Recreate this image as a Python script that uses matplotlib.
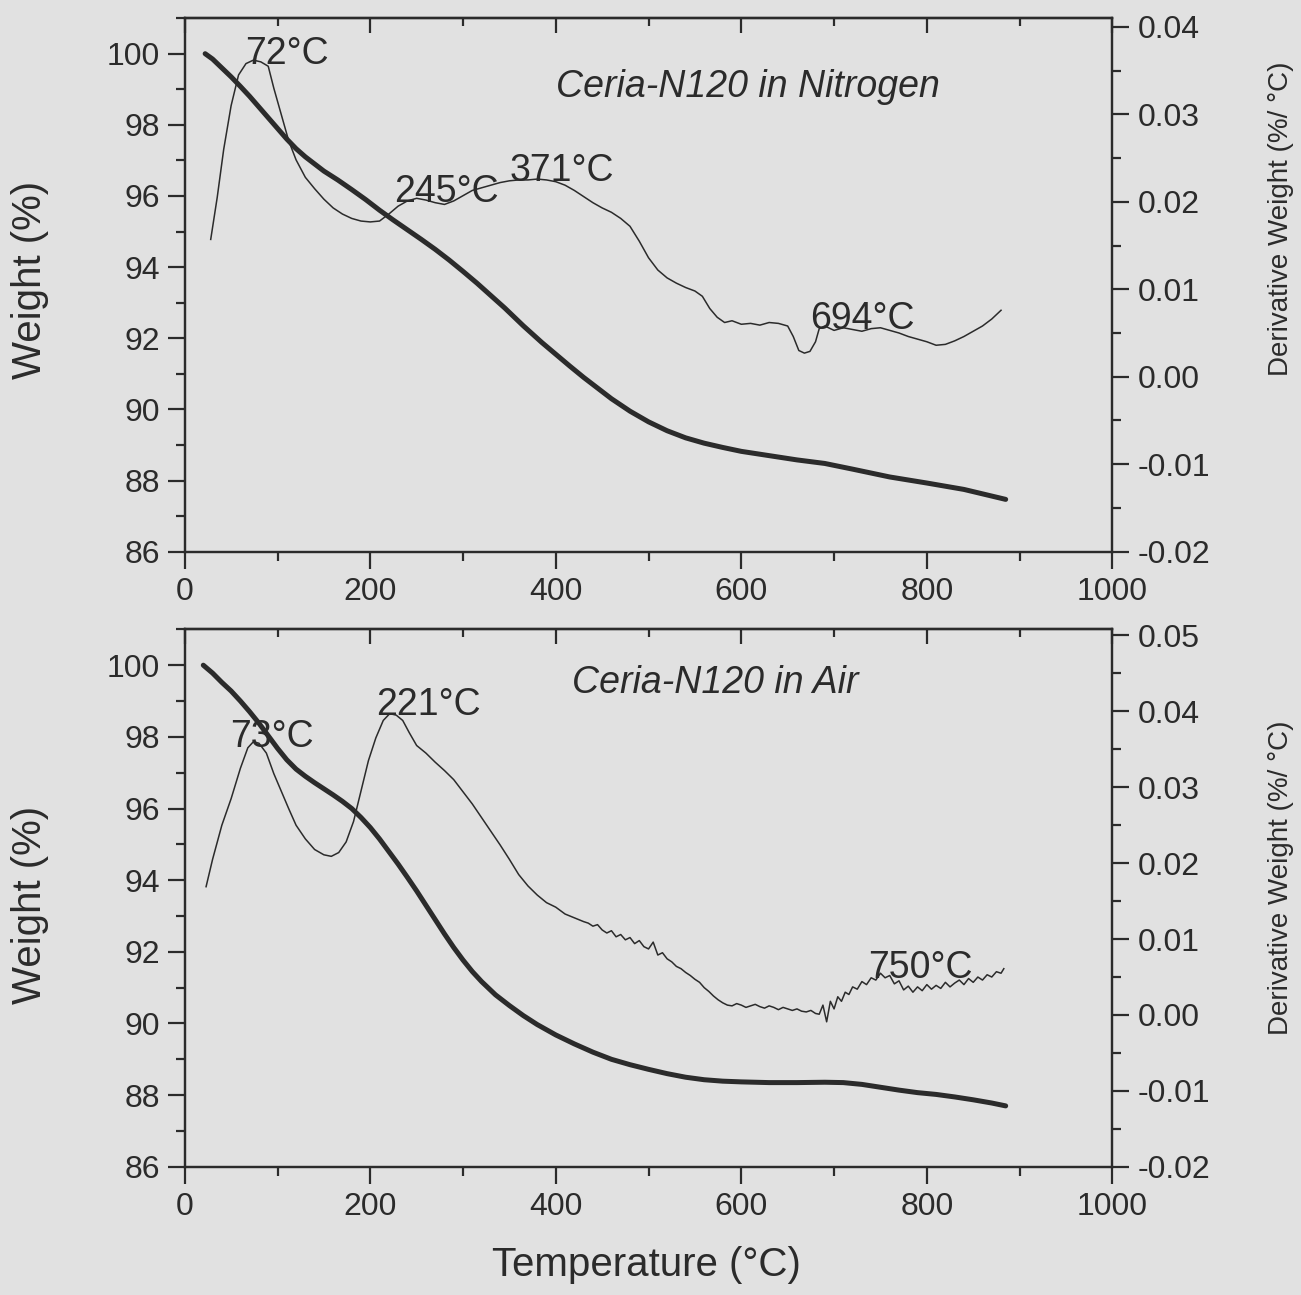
import matplotlib
matplotlib.use("Agg")
import matplotlib.pyplot as plt
from matplotlib.ticker import MultipleLocator

plt.rcParams['font.family'] = ['Liberation Sans', 'DejaVu Sans']

# ---- Ceria-N120 in nitrogen ----
n2_weight_t = [22, 30, 40, 50, 60, 70, 80, 90, 100, 110, 120, 130, 140, 150,
               165, 180, 195, 210, 225, 240, 255, 270, 285, 300, 315, 330, 345,
               365, 385, 400, 415, 430, 445, 460, 480, 500, 520, 540, 560, 580,
               600, 630, 660, 690, 720, 760, 800, 840, 885]
n2_weight = [100, 99.85, 99.6, 99.35, 99.08, 98.8, 98.5, 98.2, 97.9, 97.6,
             97.33, 97.1, 96.9, 96.7, 96.45, 96.18, 95.9, 95.6, 95.32, 95.05,
             94.78, 94.5, 94.2, 93.88, 93.55, 93.2, 92.85, 92.35, 91.88, 91.55,
             91.22, 90.9, 90.6, 90.3, 89.95, 89.65, 89.4, 89.2, 89.05, 88.93,
             88.82, 88.7, 88.58, 88.48, 88.32, 88.1, 87.93, 87.75, 87.47]

n2_deriv_t = [28, 35, 42, 50, 58, 66, 74, 82, 90, 96, 104, 112, 120, 130, 140,
              150, 160, 170, 180, 190, 200, 210, 220, 230, 240, 250, 260, 270,
              280, 290, 300, 310, 320, 330, 340, 350, 360, 370, 380, 390, 400,
              410, 420, 430, 440, 450, 460, 470, 480, 490, 500, 510, 520, 530,
              540, 550, 558, 566, 574, 582, 590, 600, 610, 620, 630, 640, 650,
              656, 662, 668, 674, 680, 684, 690, 700, 710, 720, 730, 740, 750,
              760, 770, 780, 790, 800, 810, 820, 830, 840, 850, 860, 870, 880]
n2_deriv = [0.0157, 0.0205, 0.026, 0.031, 0.0345, 0.0358, 0.0362, 0.036, 0.0355,
            0.033, 0.030, 0.027, 0.0248, 0.0228, 0.0215, 0.0203, 0.0193, 0.0186,
            0.0181, 0.0178, 0.0177, 0.0178, 0.0186, 0.0195, 0.0201, 0.0204,
            0.0202, 0.0199, 0.0197, 0.0201, 0.0207, 0.0213, 0.0216, 0.0219,
            0.0222, 0.0224, 0.0225, 0.0225, 0.0226, 0.0225, 0.0223, 0.0219,
            0.0213, 0.0206, 0.0199, 0.0193, 0.0188, 0.0181, 0.0172, 0.0155,
            0.0136, 0.0122, 0.0113, 0.0107, 0.0102, 0.0098, 0.0092, 0.0078,
            0.0068, 0.0062, 0.0064, 0.0060, 0.0061, 0.0059, 0.0062, 0.0061,
            0.0058, 0.0046, 0.0030, 0.0027, 0.0029, 0.0040, 0.0055, 0.0058,
            0.0053, 0.0056, 0.0054, 0.0052, 0.0055, 0.0056, 0.0053, 0.0050,
            0.0046, 0.0043, 0.0040, 0.0036, 0.0037, 0.0041, 0.0046, 0.0052,
            0.0058, 0.0066, 0.0076]

# ---- Ceria-N120 in air ----
air_weight_t = [20, 30, 40, 50, 60, 70, 80, 90, 100, 110, 120, 130, 140, 150,
                160, 170, 180, 190, 200, 210, 220, 230, 240, 250, 260, 270, 280,
                290, 300, 310, 320, 335, 350, 365, 380, 400, 420, 440, 460, 480,
                500, 520, 540, 560, 580, 600, 630, 660, 690, 710, 730, 750, 770,
                790, 810, 830, 850, 870, 885]
air_weight = [100, 99.78, 99.52, 99.28, 99.0, 98.7, 98.38, 98.03, 97.68, 97.36,
              97.1, 96.9, 96.72, 96.55, 96.38, 96.2, 96.0, 95.75, 95.47, 95.15,
              94.8, 94.45, 94.08, 93.7, 93.3, 92.9, 92.5, 92.12, 91.77, 91.45,
              91.17, 90.8, 90.5, 90.22, 89.97, 89.68, 89.43, 89.2, 89.0, 88.85,
              88.72, 88.6, 88.5, 88.43, 88.39, 88.37, 88.35, 88.35, 88.36, 88.35,
              88.3, 88.22, 88.14, 88.07, 88.02, 87.95, 87.87, 87.78, 87.7]

air_deriv_t = [23, 30, 40, 50, 60, 68, 74, 80, 88, 96, 104, 112, 120, 130, 140,
               150, 158, 166, 174, 182, 190, 198, 206, 214, 221, 228, 235, 242,
               250, 260, 270, 280, 290, 300, 310, 320, 330, 340, 350, 360, 370,
               380, 390, 400, 410, 420, 430, 435, 440, 445, 450, 455, 460, 465,
               470, 475, 480, 485, 490, 495, 500, 505, 510, 515, 520, 525, 530,
               535, 540, 545, 550, 555, 560, 565, 570, 575, 580, 585, 590, 595,
               600, 605, 610, 615, 620, 625, 630, 635, 640, 645, 650, 655, 660,
               665, 670, 675, 680, 684, 688, 692, 696, 700, 704, 708, 712, 716,
               720, 725, 730, 735, 740, 745, 750, 755, 760, 765, 770, 775, 780,
               785, 790, 795, 800, 805, 810, 815, 820, 825, 830, 835, 840, 845,
               850, 855, 860, 865, 870, 875, 880, 883]
air_deriv = [0.0169, 0.0205, 0.025, 0.0285, 0.0325, 0.0352, 0.036, 0.0358,
             0.0345, 0.0318, 0.0295, 0.0272, 0.025, 0.0232, 0.0218, 0.0211,
             0.0209, 0.0214, 0.0228, 0.0255, 0.0295, 0.0335, 0.0365, 0.0388,
             0.0397, 0.0395, 0.0388, 0.0372, 0.0355, 0.0345, 0.0333, 0.0322,
             0.031, 0.0294, 0.0278, 0.026, 0.0242, 0.0224, 0.0205, 0.0185,
             0.017, 0.0158, 0.0148, 0.0142, 0.0133, 0.0128, 0.0123, 0.0121,
             0.0117, 0.0119, 0.0112, 0.0108, 0.0111, 0.0103, 0.0106, 0.0099,
             0.0102, 0.0094, 0.0098, 0.0090, 0.0087, 0.0096, 0.0079, 0.0082,
             0.0074, 0.0070, 0.0064, 0.0061, 0.0056, 0.0052, 0.0047, 0.0043,
             0.0036, 0.0031, 0.0025, 0.0020, 0.0016, 0.0013, 0.0012, 0.0015,
             0.0013, 0.0010, 0.0012, 0.0014, 0.0011, 0.0009, 0.0012, 0.0010,
             0.0007, 0.0010, 0.0008, 0.0006, 0.0008, 0.0005, 0.0004, 0.0006,
             0.0002, 0.0001, 0.0013, -0.0009, 0.0018, 0.0008, 0.0024, 0.0018,
             0.0030, 0.0027, 0.0037, 0.0034, 0.0044, 0.0040, 0.0049, 0.0046,
             0.0055, 0.0049, 0.0052, 0.0041, 0.0045, 0.0033, 0.0038, 0.0030,
             0.0037, 0.0032, 0.0040, 0.0034, 0.0039, 0.0035, 0.0043, 0.0037,
             0.0042, 0.0046, 0.0040, 0.0048, 0.0043, 0.0050, 0.0046, 0.0053,
             0.0050, 0.0057, 0.0055, 0.0061]

panels = [
    dict(wt=n2_weight_t, w=n2_weight, dt=n2_deriv_t, d=n2_deriv,
         dlim=(-0.02, 0.041), dticks=[-0.02, -0.01, 0.00, 0.01, 0.02, 0.03, 0.04],
         title="Ceria-N120 in Nitrogen", title_xy=(607, 99.05),
         peaks=[("72°C", 110, 100.0), ("245°C", 282, 96.1),
                ("371°C", 406, 96.7), ("694°C", 731, 92.55)],
         rect=[0.142, 0.574, 0.713, 0.412], ylab_y=0.784, dlab_y=0.831),
    dict(wt=air_weight_t, w=air_weight, dt=air_deriv_t, d=air_deriv,
         dlim=(-0.02, 0.0508),
         dticks=[-0.02, -0.01, 0.00, 0.01, 0.02, 0.03, 0.04, 0.05],
         title="Ceria-N120 in Air", title_xy=(572, 99.5),
         peaks=[("73°C", 94, 98.0), ("221°C", 263, 98.9), ("750°C", 793, 91.56)],
         rect=[0.142, 0.099, 0.713, 0.415], ylab_y=0.301, dlab_y=0.322),
]

bg = "#e1e1e1"
ink = "#2b2b2b"

fig = plt.figure(figsize=(13.01, 12.95), dpi=100, facecolor=bg)

for p in panels:
    ax = fig.add_axes(p["rect"])
    ax.set_facecolor(bg)
    ax2 = ax.twinx()

    ax.plot(p["wt"], p["w"], color=ink, lw=3.6, solid_capstyle="round")
    ax2.plot(p["dt"], p["d"], color=ink, lw=1.1)

    ax.set_xlim(0, 1000)
    ax.set_ylim(86, 101)
    ax2.set_ylim(*p["dlim"])

    ax.xaxis.set_major_locator(MultipleLocator(200))
    ax.xaxis.set_minor_locator(MultipleLocator(100))
    ax.yaxis.set_major_locator(MultipleLocator(2))
    ax.yaxis.set_minor_locator(MultipleLocator(1))
    ax2.set_yticks(p["dticks"])
    ax2.set_yticklabels([f"{v:.2f}" for v in p["dticks"]])
    ax2.yaxis.set_minor_locator(MultipleLocator(0.005))

    for a in (ax, ax2):
        for s in a.spines.values():
            s.set_linewidth(1.6)
            s.set_color(ink)
    for a in (ax, ax2):
        a.tick_params(which="major", direction="out", length=12, width=1.6,
                      labelsize=23, colors=ink, pad=6)
        a.tick_params(which="minor", direction="out", length=6.5, width=1.6,
                      colors=ink)

    top = ax.secondary_xaxis("top")
    top.xaxis.set_major_locator(MultipleLocator(200))
    top.xaxis.set_minor_locator(MultipleLocator(100))
    top.tick_params(which="major", direction="in", length=11, width=1.6,
                    labeltop=False, colors=ink)
    top.tick_params(which="minor", direction="in", length=6, width=1.6,
                    colors=ink)
    top.spines["top"].set_linewidth(1.6)

    ax.text(*p["title_xy"], p["title"], fontsize=27, style="italic",
            color=ink, ha="center", va="center")
    for label, tx, wy in p["peaks"]:
        ax.text(tx, wy, label, fontsize=27, color=ink, ha="center",
                va="center")

    fig.text(0.023, p["ylab_y"], "Weight (%)", rotation=90, fontsize=29,
             color=ink, ha="center", va="center")
    fig.text(0.985, p["dlab_y"], "Derivative Weight (%/ °C)", rotation=90,
             fontsize=20, color=ink, ha="center", va="center")

fig.text(0.497, 0.023, "Temperature (°C)", fontsize=29, color=ink,
         ha="center", va="center")

fig.savefig("out.png", dpi=100, facecolor=bg)
